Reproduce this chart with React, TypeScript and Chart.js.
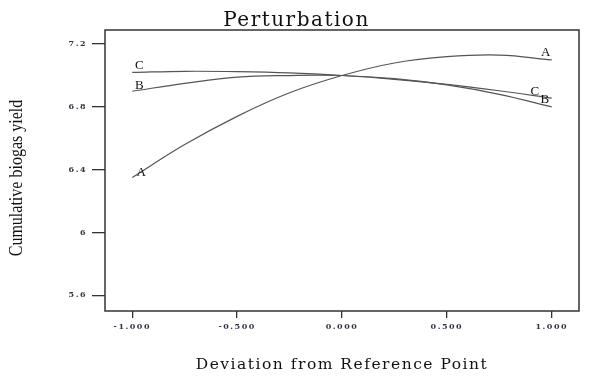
import React, { useEffect, useRef } from "react";
import { Chart, registerables } from "chart.js";

Chart.register(...registerables);

const xPoints = [-1, -0.75, -0.5, -0.25, 0, 0.25, 0.5, 0.75, 1];
const seriesA = [6.35, 6.56, 6.74, 6.89, 7.0, 7.08, 7.12, 7.13, 7.1];
const seriesB = [6.9, 6.95, 6.99, 7.0, 7.0, 6.98, 6.94, 6.88, 6.8];
const seriesC = [7.02, 7.027, 7.025, 7.017, 7.0, 6.976, 6.944, 6.903, 6.856];
const seriesNames = ["A", "B", "C"];
const xTicks = [-1, -0.5, 0, 0.5, 1];
const xTickLabels = ["-1.000", "-0.500", "0.000", "0.500", "1.000"];
const yTicks = [5.6, 6, 6.4, 6.8, 7.2];
const yTickLabels = ["5.6", "6", "6.4", "6.8", "7.2"];

const titleText = "Perturbation";
const xTitle = "Deviation from Reference Point";
const yTitle = "Cumulative biogas yield";

// label offsets (px) relative to line endpoints: [left dx, left dy, right dx, right dy]
const labelOffsets: Record<string, number[]> = {
  A: [9, -5, -6, -7],
  B: [7, -6, -7, -7],
  C: [7, -7, -17, -7],
};

const spacingPlugin = {
  id: "spacing",
  beforeDraw(chart: any) {
    (chart.ctx as any).letterSpacing = "1.5px";
  },
  afterDraw(chart: any) {
    (chart.ctx as any).letterSpacing = "0px";
  },
};

const boxPlugin = {
  id: "boxAndLabels",
  afterDatasetsDraw(chart: any) {
    const { ctx, chartArea, scales } = chart;
    ctx.save();
    (ctx as any).letterSpacing = "0px";
    ctx.strokeStyle = "#333";
    ctx.lineWidth = 1.5;
    ctx.strokeRect(chartArea.left, chartArea.top, chartArea.right - chartArea.left, chartArea.bottom - chartArea.top);
    ctx.fillStyle = "#111";
    ctx.font = "13px 'Liberation Serif'";
    ctx.textAlign = "center";
    ctx.textBaseline = "middle";
    chart.data.datasets.forEach((ds: any) => {
      const name = ds.label;
      const off = labelOffsets[name];
      const first = ds.data[0];
      const last = ds.data[ds.data.length - 1];
      ctx.fillText(name, scales.x.getPixelForValue(first.x) + off[0], scales.y.getPixelForValue(first.y) + off[1]);
      ctx.fillText(name, scales.x.getPixelForValue(last.x) + off[2], scales.y.getPixelForValue(last.y) + off[3]);
    });
    // y-axis title, condensed serif
    ctx.translate(17.5, (chartArea.top + chartArea.bottom) / 2 + 7.5);
    ctx.rotate(-Math.PI / 2);
    ctx.scale(0.89, 1);
    ctx.font = "18px 'Liberation Serif'";
    ctx.fillStyle = "#111";
    ctx.fillText(yTitle, 0, 0);
    ctx.restore();
  },
};

export default function App() {
  const ref = useRef<HTMLCanvasElement>(null);
  useEffect(() => {
    document.body.style.margin = "0";
    const all = [seriesA, seriesB, seriesC];
    const chart = new Chart(ref.current!, {
      type: "line",
      data: {
        datasets: all.map((s, i) => ({
          label: seriesNames[i],
          data: s.map((y, j) => ({ x: xPoints[j], y })),
          borderColor: "#555",
          borderWidth: 1.2,
          pointRadius: 0,
          fill: false,
          tension: 0.4,
        })),
      },
      options: {
        responsive: false,
        animation: false,
        layout: { padding: { left: 0, right: 7, top: 0, bottom: 0 } },
        plugins: {
          legend: { display: false },
          tooltip: { enabled: false },
          title: {
            display: true,
            text: titleText,
            color: "#111",
            font: { family: "'DejaVu Serif'", size: 20, weight: "normal", lineHeight: 0.9 },
            padding: { top: 12, bottom: 0 },
          },
        },
        scales: {
          x: {
            type: "linear",
            min: -1.13,
            max: 1.13,
            afterFit: (s: any) => { s.height = 68; },
            afterBuildTicks: (s: any) => { s.ticks = xTicks.map((v) => ({ value: v })); },
            ticks: {
              callback: (v: any) => xTickLabels[xTicks.indexOf(Number(v))] ?? "",
              color: "#333344",
              font: { family: "'DejaVu Serif'", size: 8, weight: "bold" },
              padding: 4,
              maxRotation: 0,
            },
            grid: { drawOnChartArea: false, drawTicks: true, tickLength: 7, color: "#333", lineWidth: 1.3 },
            border: { display: false },
            title: {
              display: true,
              text: xTitle,
              color: "#111",
              font: { family: "'DejaVu Serif'", size: 15.5 },
              padding: { top: 0, bottom: 5 },
            },
          },
          y: {
            type: "linear",
            min: 5.5,
            max: 7.29,
            afterFit: (s: any) => { s.width = 105; },
            afterBuildTicks: (s: any) => { s.ticks = yTicks.map((v) => ({ value: v })); },
            ticks: {
              callback: (v: any) => yTickLabels[yTicks.indexOf(Number(v))] ?? "",
              color: "#333344",
              font: { family: "'DejaVu Serif'", size: 8, weight: "bold" },
              padding: 5,
            },
            grid: { drawOnChartArea: false, drawTicks: true, tickLength: 13, color: "#333", lineWidth: 1.3 },
            border: { display: false },
          },
          y2: {
            type: "linear",
            position: "right",
            display: true,
            afterFit: (s: any) => { s.width = 14; },
            ticks: { display: false },
            grid: { display: false },
            border: { display: false },
          },
        },
      },
      plugins: [spacingPlugin, boxPlugin],
    });
    return () => chart.destroy();
  }, []);
  return (
    <div style={{ position: "absolute", left: 0, top: 0, width: 600, height: 379, background: "#fff" }}>
      <canvas ref={ref} width={600} height={379} style={{ display: "block" }} />
    </div>
  );
}
